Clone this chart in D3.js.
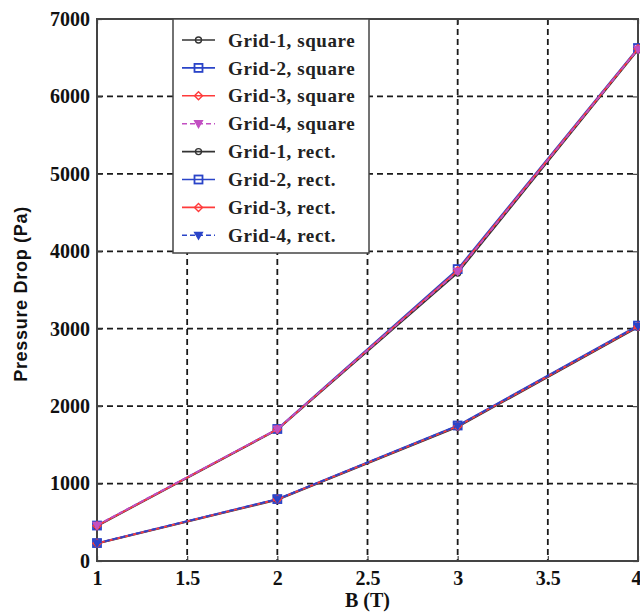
<!DOCTYPE html>
<html>
<head>
<meta charset="utf-8">
<script src="https://cdn.jsdelivr.net/npm/d3@7"></script>
<style>
  body { margin: 0; background: #fff; }
  svg { display: block; }
</style>
</head>
<body>
<div id="chart"></div>
<script>
// B values (T)
const fieldB = [1, 2, 3, 4];

// pressure drop (Pa)
const grid1Square = [450, 1695, 3720, 6600];
const grid2Square = [458, 1705, 3770, 6625];
const grid3Square = [455, 1700, 3750, 6615];
const grid4Square = [462, 1702, 3740, 6610];
const grid1Rect = [225, 790, 1730, 3020];
const grid2Rect = [232, 800, 1750, 3040];
const grid3Rect = [228, 796, 1740, 3030];
const grid4Rect = [230, 798, 1745, 3035];

const xTicks = [1, 1.5, 2, 2.5, 3, 3.5, 4];
const yTicks = [0, 1000, 2000, 3000, 4000, 5000, 6000, 7000];

const seriesNames = [
  "Grid-1, square", "Grid-2, square", "Grid-3, square", "Grid-4, square",
  "Grid-1, rect.", "Grid-2, rect.", "Grid-3, rect.", "Grid-4, rect."
];
const seriesValues = [
  grid1Square, grid2Square, grid3Square, grid4Square,
  grid1Rect, grid2Rect, grid3Rect, grid4Rect
];

const BLACK = "#333333", BLUE = "#2a44c8", RED = "#ff3b3b", MAGENTA = "#c24fc2";
const styles = [
  { color: BLACK, marker: "circle", dash: null },
  { color: BLUE, marker: "square", dash: null },
  { color: RED, marker: "diamond", dash: null },
  { color: MAGENTA, marker: "triangle", dash: "5,3" },
  { color: BLACK, marker: "circle", dash: null },
  { color: BLUE, marker: "square", dash: null },
  { color: RED, marker: "diamond", dash: null },
  { color: BLUE, marker: "triangle", dash: "5,3" }
];

const width = 640, height = 612;
const margin = { top: 19, right: 2, bottom: 51, left: 97 };
const plotW = width - margin.left - margin.right;
const plotH = height - margin.top - margin.bottom;

const svg = d3.select("#chart").append("svg")
  .attr("width", width)
  .attr("height", height);

const g = svg.append("g")
  .attr("transform", "translate(" + margin.left + "," + margin.top + ")");

const x = d3.scaleLinear().domain([1, 4]).range([0, plotW]);
const y = d3.scaleLinear().domain([0, 7000]).range([plotH, 0]);

const serif = "'Liberation Serif', 'Times New Roman', serif";

// grid lines
g.append("g")
  .selectAll("line")
  .data(xTicks.slice(1, -1))
  .join("line")
  .attr("x1", (d) => x(d))
  .attr("x2", (d) => x(d))
  .attr("y1", 0)
  .attr("y2", plotH)
  .style("stroke", "#1a1a1a")
  .style("stroke-width", 1.8)
  .style("stroke-dasharray", "6,4");

g.append("g")
  .selectAll("line")
  .data(yTicks.slice(1, -1))
  .join("line")
  .attr("x1", 0)
  .attr("x2", plotW)
  .attr("y1", (d) => y(d))
  .attr("y2", (d) => y(d))
  .style("stroke", "#1a1a1a")
  .style("stroke-width", 1.8)
  .style("stroke-dasharray", "6,4");

// axes with inward ticks
const axisStyle = (sel) => {
  sel.select(".domain").remove();
  sel.selectAll(".tick line").attr("stroke", "#444").attr("stroke-width", 1.2);
};

g.append("g")
  .attr("transform", "translate(0," + plotH + ")")
  .call(d3.axisBottom(x).tickValues(xTicks).tickSize(-5).tickPadding(10).tickFormat(d3.format("")))
  .call(axisStyle)
  .call((s) => s.selectAll("text")
    .attr("fill", "#111")
    .style("font-family", serif)
    .style("font-weight", "bold")
    .style("font-size", "20px"))
  .call((s) => s.selectAll(".tick:last-of-type text").attr("text-anchor", "end").attr("dx", 3));

g.append("g")
  .call(d3.axisLeft(y).tickValues(yTicks).tickSize(-5).tickPadding(7).tickFormat(d3.format("d")))
  .call(axisStyle)
  .call((s) => s.selectAll("text")
    .attr("fill", "#111")
    .style("font-family", serif)
    .style("font-weight", "bold")
    .style("font-size", "20px"));

g.append("g")
  .call(d3.axisTop(x).tickValues(xTicks).tickSize(-5).tickFormat(""))
  .call(axisStyle);

g.append("g")
  .attr("transform", "translate(" + plotW + ",0)")
  .call(d3.axisRight(y).tickValues(yTicks).tickSize(-5).tickFormat(""))
  .call(axisStyle);

// frame
g.append("rect")
  .attr("x", 0)
  .attr("y", 0)
  .attr("width", plotW)
  .attr("height", plotH)
  .attr("fill", "none")
  .attr("stroke", "#444")
  .attr("stroke-width", 2);

// markers
function drawMarker(sel, type, cx, cy, color) {
  const s = 4;
  if (type === "circle") {
    sel.append("circle").attr("cx", cx).attr("cy", cy).attr("r", 3)
      .attr("fill", "none").attr("stroke", color).attr("stroke-width", 1.4);
  } else if (type === "square") {
    sel.append("rect").attr("x", cx - s).attr("y", cy - s)
      .attr("width", 2 * s).attr("height", 2 * s)
      .attr("fill", "none").attr("stroke", color).attr("stroke-width", 1.8);
  } else if (type === "diamond") {
    sel.append("path")
      .attr("d", "M" + cx + "," + (cy - s) + "L" + (cx + s) + "," + cy + "L" + cx + "," + (cy + s) + "L" + (cx - s) + "," + cy + "Z")
      .attr("fill", "none").attr("stroke", color).attr("stroke-width", 1.4);
  } else {
    sel.append("path")
      .attr("d", "M" + (cx - s) + "," + (cy - s + 1) + "L" + (cx + s) + "," + (cy - s + 1) + "L" + cx + "," + (cy + s) + "Z")
      .attr("fill", color).attr("stroke", color).attr("stroke-width", 1.2);
  }
}

const line = d3.line()
  .x((d) => x(d[0]))
  .y((d) => y(d[1]));

seriesValues.forEach((vals, i) => {
  const pts = fieldB.map((b, j) => [b, vals[j]]);
  const st = styles[i];
  g.append("path")
    .datum(pts)
    .attr("d", line)
    .attr("fill", "none")
    .attr("stroke", st.color)
    .attr("stroke-width", 1.8)
    .style("stroke-dasharray", st.dash);
  const mg = g.append("g");
  pts.forEach((p) => drawMarker(mg, st.marker, x(p[0]), y(p[1]), st.color));
});

// legend
const legend = svg.append("g").attr("transform", "translate(173,19)");
legend.append("rect")
  .attr("width", 196)
  .attr("height", 234)
  .attr("fill", "#fff")
  .attr("stroke", "#444")
  .attr("stroke-width", 1.5);

seriesNames.forEach((name, i) => {
  const st = styles[i];
  const ry = 21 + i * 27.9;
  legend.append("line")
    .attr("x1", 9).attr("x2", 42)
    .attr("y1", ry).attr("y2", ry)
    .attr("stroke", st.color)
    .attr("stroke-width", 1.6)
    .style("stroke-dasharray", st.dash);
  drawMarker(legend, st.marker, 25.5, ry, st.color);
  legend.append("text")
    .attr("x", 55)
    .attr("y", ry)
    .attr("dy", "0.35em")
    .attr("fill", "#222")
    .style("font-family", serif)
    .style("font-weight", "bold")
    .style("font-size", "19px")
    .style("letter-spacing", "0.6px")
    .text(name);
});

// axis titles
svg.append("text")
  .attr("x", margin.left + x(2.5))
  .attr("y", 607)
  .attr("text-anchor", "middle")
  .attr("fill", "#111")
  .style("font-family", serif)
  .style("font-weight", "bold")
  .style("font-size", "20px")
  .text("B (T)");

svg.append("text")
  .attr("transform", "translate(27,294) rotate(-90)")
  .attr("text-anchor", "middle")
  .attr("fill", "#111")
  .style("font-family", "'Liberation Sans', Arial, sans-serif")
  .style("font-weight", "bold")
  .style("font-size", "18px")
  .style("letter-spacing", "0.7px")
  .text("Pressure Drop (Pa)");
</script>
</body>
</html>
